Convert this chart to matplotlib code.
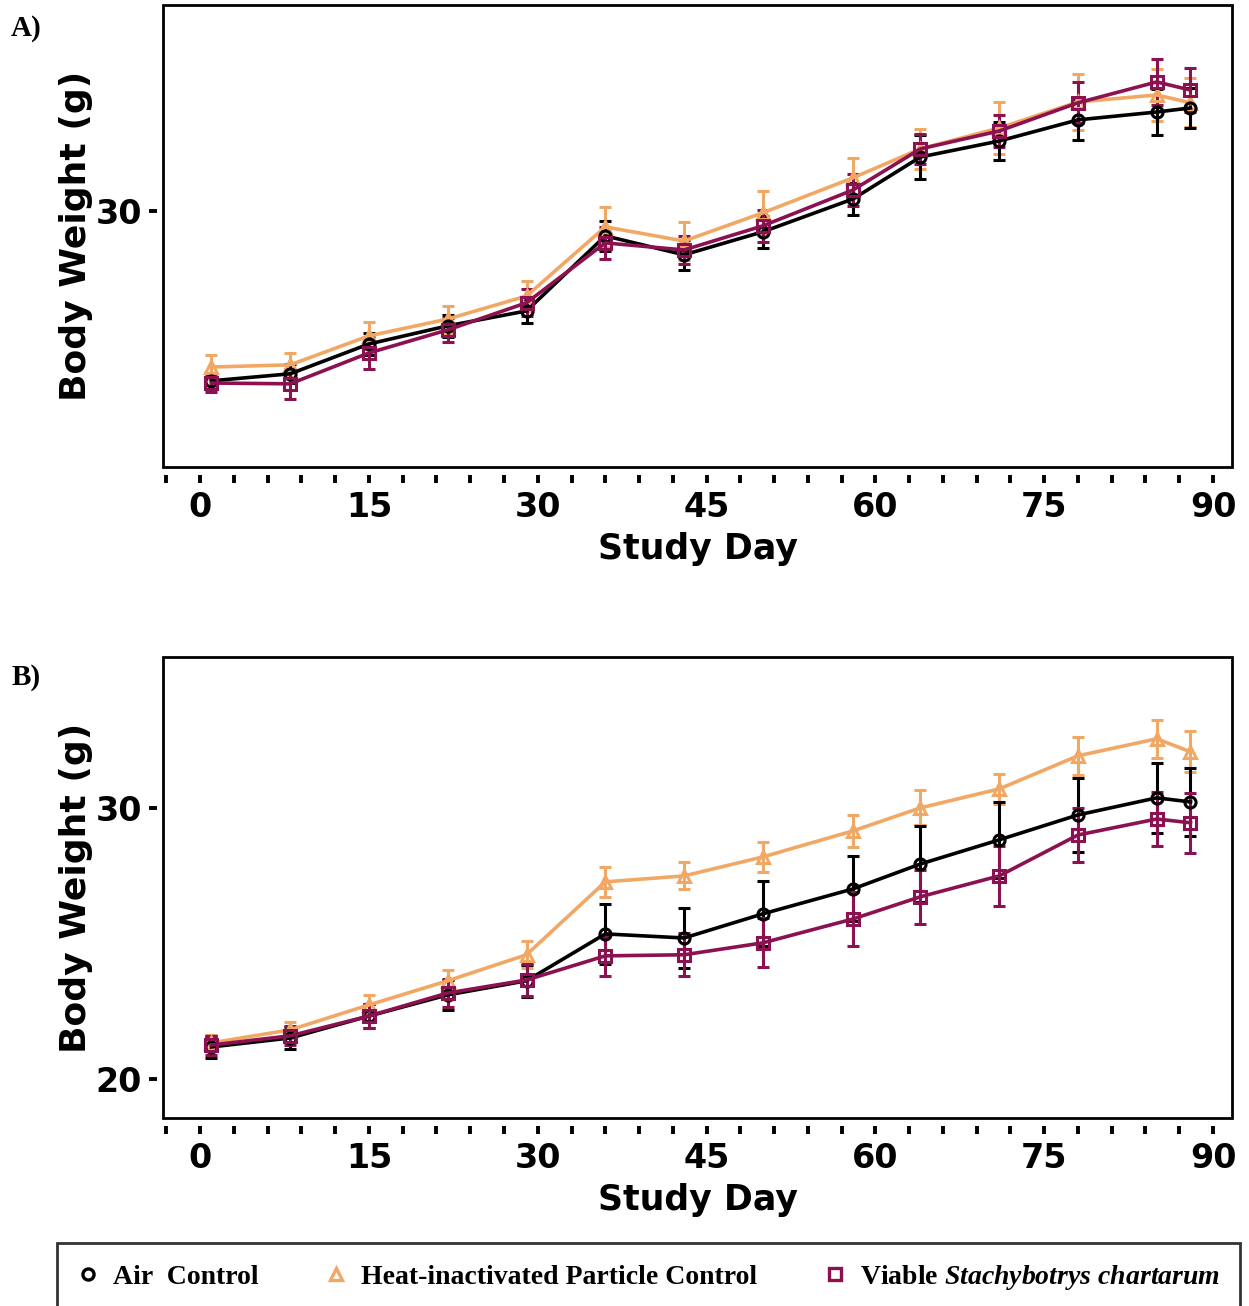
import matplotlib
matplotlib.use("Agg")
import matplotlib.pyplot as plt
from matplotlib.patches import Rectangle
from matplotlib.lines import Line2D

plt.rcParams['mathtext.fontset'] = 'custom'
plt.rcParams['mathtext.it'] = 'Liberation Serif:bold:italic'
plt.rcParams['mathtext.rm'] = 'Liberation Serif:bold'

days = [1, 8, 15, 22, 29, 36, 43, 50, 58, 64, 71, 78, 85, 88]

# panel A - body weight means (g) and error
a_air = [23.73, 23.99, 25.09, 25.76, 26.31, 29.08, 28.38, 29.23, 30.44, 31.99, 32.58, 33.36, 33.65, 33.80]
a_heat = [24.24, 24.32, 25.39, 26.01, 26.86, 29.41, 28.89, 29.93, 31.22, 32.29, 33.06, 34.02, 34.28, 33.99]
a_viable = [23.65, 23.62, 24.76, 25.61, 26.61, 28.82, 28.56, 29.45, 30.77, 32.29, 32.95, 33.99, 34.76, 34.46]
a_air_err = [0.3, 0.35, 0.4, 0.4, 0.45, 0.55, 0.55, 0.6, 0.6, 0.8, 0.7, 0.75, 0.85, 0.75]
a_heat_err = [0.45, 0.45, 0.5, 0.5, 0.55, 0.75, 0.7, 0.8, 0.75, 0.75, 0.95, 1.05, 0.95, 0.9]
a_viable_err = [0.35, 0.55, 0.6, 0.45, 0.5, 0.6, 0.5, 0.6, 0.6, 0.55, 0.6, 0.75, 0.85, 0.8]

# panel B
b_air = [21.18, 21.51, 22.32, 23.10, 23.62, 25.35, 25.20, 26.09, 27.01, 27.93, 28.82, 29.74, 30.37, 30.22]
b_heat = [21.33, 21.81, 22.73, 23.62, 24.58, 27.27, 27.49, 28.19, 29.15, 30.00, 30.70, 31.92, 32.55, 32.07]
b_viable = [21.25, 21.59, 22.32, 23.17, 23.65, 24.54, 24.58, 25.02, 25.90, 26.72, 27.49, 29.00, 29.59, 29.45]
b_air_err = [0.4, 0.4, 0.45, 0.55, 0.6, 1.1, 1.1, 1.2, 1.2, 1.4, 1.4, 1.35, 1.3, 1.25]
b_heat_err = [0.3, 0.3, 0.35, 0.4, 0.5, 0.55, 0.5, 0.55, 0.6, 0.65, 0.55, 0.7, 0.7, 0.75]
b_viable_err = [0.35, 0.35, 0.45, 0.5, 0.6, 0.75, 0.8, 0.9, 1.0, 1.0, 1.1, 1.0, 1.0, 1.1]

groups = ["Air  Control", "Heat-inactivated Particle Control",
          r"Viable $\it{Stachybotrys\ chartarum}$"]
colors = ["#000000", "#F2A865", "#8C1150"]
markers = ["o", "^", "s"]

fig = plt.figure(figsize=(12.49, 13.06), dpi=100)
ax_a = fig.add_axes([0.1305, 0.6424, 0.856, 0.3538])
ax_b = fig.add_axes([0.1305, 0.1440, 0.856, 0.3530])


def draw_panel(ax, air, heat, viable, air_err, heat_err, viable_err, ylim):
    series = [(heat, heat_err, 1), (air, air_err, 0), (viable, viable_err, 2)]
    for vals, err, i in series:
        ax.errorbar(days, vals, yerr=err, color=colors[i], marker=markers[i],
                    markersize=8, markerfacecolor="none", markeredgewidth=2.2,
                    linewidth=2.6, elinewidth=2.2, capsize=4, capthick=2.2)
    xt = list(range(-3, 91, 3))
    ax.set_xticks(xt)
    ax.set_xticklabels([str(d) if d % 15 == 0 and d >= 0 else "" for d in xt])
    ax.set_yticks([20, 30, 40])
    # limits after ticks so the ticks don't widen the view
    ax.set_xlim(-3.3, 91.7)
    ax.set_ylim(*ylim)
    for s in ax.spines.values():
        s.set_visible(False)
    ax.spines['bottom'].set_position(('outward', 6))
    ax.spines['left'].set_position(('outward', 4))
    ax.add_patch(Rectangle((0, 0), 1, 1, transform=ax.transAxes, fill=False,
                           edgecolor="black", linewidth=2, clip_on=False, zorder=5))
    ax.tick_params(axis='both', direction='out', length=6, width=2.8, pad=5,
                   labelsize=24)
    for lab in ax.get_xticklabels() + ax.get_yticklabels():
        lab.set_fontweight('bold')
    ax.set_xlabel("Study Day", fontsize=25, fontweight='bold', labelpad=6)
    ax.set_ylabel("Body Weight (g)", fontsize=26, fontweight='bold', labelpad=2)


draw_panel(ax_a, a_air, a_heat, a_viable, a_air_err, a_heat_err, a_viable_err, (20.55, 37.6))
draw_panel(ax_b, b_air, b_heat, b_viable, b_air_err, b_heat_err, b_viable_err, (18.56, 35.57))

fig.text(0.009, 0.973, "A)", fontsize=21, fontweight='bold', family='Liberation Serif')
fig.text(0.009, 0.476, "B)", fontsize=21, fontweight='bold', family='Liberation Serif')

handles = [Line2D([], [], linestyle="none", marker=markers[i], color=colors[i],
                  markerfacecolor="none", markeredgewidth=2.4, markersize=8)
           for i in range(3)]
leg = fig.legend(handles, groups, loc="lower left", ncol=3, mode="expand",
                 bbox_to_anchor=(0.0456, -0.004, 0.947, 0.0545), borderaxespad=0,
                 frameon=True, fancybox=False, edgecolor="black",
                 handlelength=0.8, handletextpad=0.5, borderpad=0.7,
                 prop={'family': 'Liberation Serif', 'weight': 'bold', 'size': 20})
leg.get_frame().set_linewidth(2)

fig.savefig("out.png", dpi=100)
